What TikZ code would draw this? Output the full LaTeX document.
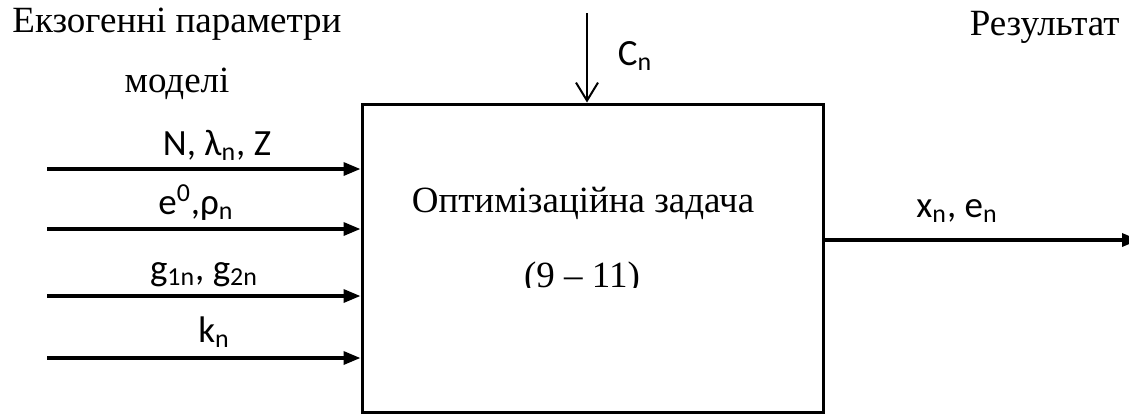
\documentclass[tikz,border=0pt]{standalone}
\usepackage{fontspec}
\setmainfont{Liberation Serif}
\newfontfamily\calibri{Carlito}
\usetikzlibrary{arrows.meta}

\begin{document}
\begin{tikzpicture}[
        x=0.5pt,
        y=-0.5pt,
        every node/.style={inner sep=0pt},
        serif/.style={
            font=\fontsize{18.5}{22}\selectfont,
            anchor=base
        },
        sans/.style={
            font=\calibri\fontsize{18.5}{22}\selectfont,
            anchor=base
        },
        taskbox/.style={
            draw,
            line width=1.5pt,
            minimum width=230.5pt,
            minimum height=154pt
        },
        inarrow/.style={
            line width=1.7pt,
            -{Triangle[length=8.5pt,width=6.5pt]}
        },
        toparrow/.style={
            line width=1pt,
            -{Straight Barb[length=9pt,width=11pt,line width=1pt]}
        }
    ]
        \useasboundingbox (0,0) rectangle (1129,414);

        % Box: x=362..823, y=104..412
        \node[taskbox] (task) at (592.5,258) {};

        \node[serif] (name) at (583,212) {Оптимізаційна задача};
        \begin{scope}
            \clip (362,104) rectangle (823,287);
            \node[serif] (eqs) at (582,287) {(9 -- 11)};
        \end{scope}

        % Headings
        \node[serif, anchor=base west] (exo) at (12,32) {Екзогенні параметри};
        \node[serif] (exo2) at (177,92) {моделі};
        \node[serif, anchor=base east] (res) at (1120,35) {Результат};

        % Inputs from the left
        \foreach \n/\y in {1/169,2/229,3/296,4/358} {
            \coordinate (in\n) at (47,\y);
            \draw[inarrow] (in\n) -- (in\n -| task.west);
        }

        \node[sans] (lab1) at (217,155) {N, λ\textsubscript{n}, Z};
        \node[sans] (lab2) at (196,214) {e\textsuperscript{0},ρ\textsubscript{n}};
        \node[sans] (lab3) at (204,280) {g\textsubscript{1n}, g\textsubscript{2n}};
        \node[sans] (lab4) at (214,342) {k\textsubscript{n}};

        % Control from above
        \coordinate (cin) at (587,13);
        \draw[toparrow] (cin) -- (cin |- task.north);
        \node[sans] (labc) at (635,65) {C\textsubscript{n}};

        % Output to the right
        \coordinate (out) at (1139,240);
        \draw[inarrow] (task.east |- out) -- (out);
        \node[sans] (labx) at (957,217) {x\textsubscript{n}, e\textsubscript{n}};

    \end{tikzpicture}
\end{document}
